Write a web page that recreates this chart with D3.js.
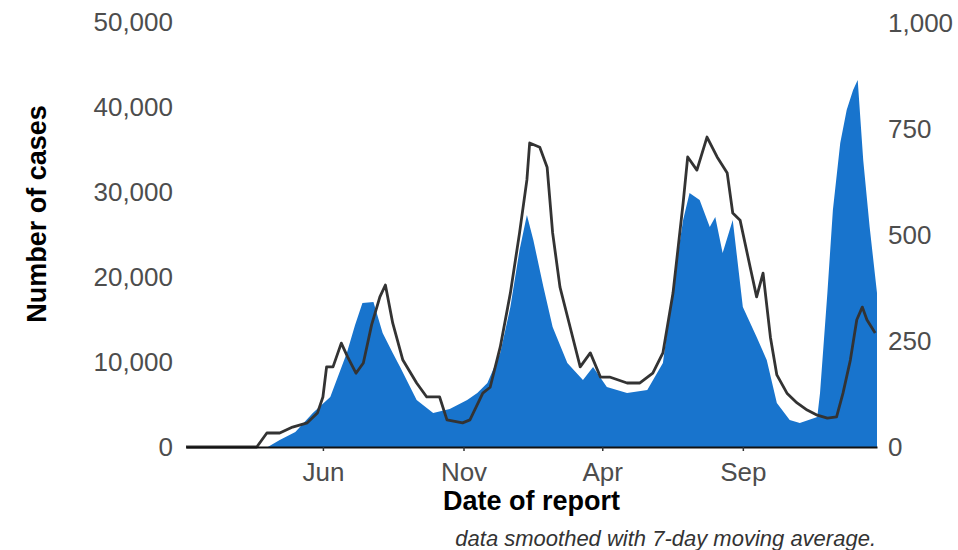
<!DOCTYPE html>
<html>
<head>
<meta charset="utf-8">
<script src="https://cdn.jsdelivr.net/npm/d3@7"></script>
<style>
  html, body { margin: 0; padding: 0; background: #fff; }
  svg { display: block; }
  text { font-family: "Liberation Sans", Arial, Helvetica, sans-serif; }
</style>
</head>
<body>
<svg id="chart" width="958" height="550"></svg>
<script>
// ---- data ----
const caseDates = ["2020-01-04","2020-04-02","2020-04-15","2020-05-02","2020-05-21","2020-06-09","2020-06-27","2020-07-06","2020-07-14","2020-07-26","2020-08-05","2020-08-16","2020-08-24","2020-09-11","2020-09-29","2020-10-17","2020-11-05","2020-11-16","2020-11-27","2020-12-11","2020-12-22","2021-01-01","2021-01-09","2021-01-16","2021-01-27","2021-02-06","2021-02-22","2021-03-11","2021-03-22","2021-04-06","2021-04-28","2021-05-20","2021-06-06","2021-06-17","2021-06-28","2021-07-05","2021-07-16","2021-07-27","2021-08-02","2021-08-10","2021-08-21","2021-09-01","2021-09-16","2021-09-27","2021-10-08","2021-10-22","2021-11-02","2021-11-21","2021-11-24","2021-12-02","2021-12-08","2021-12-16","2021-12-23","2021-12-30","2022-01-04","2022-01-10","2022-01-17","2022-01-25"];
const caseValues = [0,0,820,1760,4000,5880,11060,14350,16940,17060,13410,11060,9410,5530,4000,4470,5530,6350,7530,11060,16470,23180,27290,24350,18820,14120,9880,7880,9410,7060,6350,6710,9880,18820,26710,29880,29060,25880,27060,22820,26710,16470,12940,10240,5180,3180,2820,3530,6350,18120,27880,35770,39650,42000,43180,33770,25880,18120];

const deathDates = ["2020-01-04","2020-03-21","2020-04-01","2020-04-15","2020-04-29","2020-05-15","2020-05-26","2020-06-01","2020-06-05","2020-06-12","2020-06-21","2020-06-28","2020-07-07","2020-07-15","2020-07-24","2020-08-02","2020-08-08","2020-08-16","2020-08-27","2020-09-11","2020-09-22","2020-10-06","2020-10-14","2020-10-31","2020-11-08","2020-11-22","2020-11-30","2020-12-11","2020-12-22","2021-01-01","2021-01-09","2021-01-12","2021-01-23","2021-01-31","2021-02-06","2021-02-14","2021-02-25","2021-03-08","2021-03-19","2021-03-30","2021-04-09","2021-04-28","2021-05-12","2021-05-26","2021-06-06","2021-06-17","2021-06-28","2021-07-03","2021-07-13","2021-07-24","2021-08-04","2021-08-15","2021-08-21","2021-08-29","2021-09-09","2021-09-16","2021-09-23","2021-10-01","2021-10-08","2021-10-19","2021-10-30","2021-11-10","2021-11-21","2021-12-02","2021-12-12","2021-12-19","2021-12-27","2022-01-03","2022-01-09","2022-01-14","2022-01-23"];
const deathValues = [0,0,33,33,47,57,80,118,189,189,245,212,174,198,288,354,382,292,205,151,118,118,64,57,64,127,141,236,363,505,630,717,707,660,505,377,283,189,222,165,165,151,151,174,222,363,575,684,653,731,684,646,552,535,424,354,410,259,170,127,104,87,75,68,71,127,205,300,330,300,269];

const xDomain = ["2020-01-04", "2022-01-25"];
const xTicks = ["2020-06-01", "2020-11-01", "2021-04-01", "2021-09-01"];
const leftTicks = [0, 10000, 20000, 30000, 40000, 50000];
const rightTicks = [0, 250, 500, 750, 1000];

const xTitle = "Date of report";
const yTitle = "Number of cases";
const caption = "data smoothed with 7-day moving average.";

// ---- layout ----
const parse = d3.utcParse("%Y-%m-%d");
const svg = d3.select("#chart");
const L = 186, R = 877, B = 447, T = 22;

const x = d3.scaleUtc().domain(xDomain.map(parse)).range([L, R]);
const yL = d3.scaleLinear().domain([0, 50000]).range([B, T]);
const yR = d3.scaleLinear().domain([0, 1000]).range([B, T + 1]);

const cases = caseDates.map((d, i) => ({ date: parse(d), v: caseValues[i] }));
const deaths = deathDates.map((d, i) => ({ date: parse(d), v: deathValues[i] }));

// blue area (cases)
svg.append("path")
  .datum(cases)
  .attr("fill", "#1874CD")
  .attr("d", d3.area().x(d => x(d.date)).y0(B).y1(d => yL(d.v)));

// deaths line
const line = d3.line().x(d => x(d.date)).y(d => yR(d.v));
svg.append("path").datum(deaths)
  .attr("fill", "none").attr("stroke", "#333333").attr("stroke-width", 2.8)
  .attr("stroke-linejoin", "round").attr("d", line);

// left axis
const gL = svg.append("g").attr("transform", `translate(${L},0)`)
  .call(d3.axisLeft(yL).tickValues(leftTicks).tickSize(0).tickPadding(13).tickFormat(d3.format(",")));
gL.select(".domain").remove();
gL.selectAll("text").attr("font-size", 26).attr("fill", "#4D4D4D")
  .style("font-family", "'Liberation Sans', Arial, sans-serif");

// right axis
const gR = svg.append("g").attr("transform", `translate(${R},0)`)
  .call(d3.axisRight(yR).tickValues(rightTicks).tickSize(0).tickPadding(11).tickFormat(d3.format(",")));
gR.select(".domain").remove();
gR.selectAll("text").attr("font-size", 26).attr("fill", "#4D4D4D")
  .style("font-family", "'Liberation Sans', Arial, sans-serif");

// bottom axis
const gB = svg.append("g").attr("transform", `translate(0,${B})`)
  .call(d3.axisBottom(x).tickValues(xTicks.map(parse)).tickSize(4).tickSizeOuter(0).tickPadding(12)
    .tickFormat(d3.utcFormat("%b")));
gB.select(".domain").attr("stroke", "#111").attr("stroke-width", 2);
gB.selectAll(".tick line").attr("stroke", "#333").attr("stroke-width", 1.5);
gB.selectAll("text").attr("font-size", 26).attr("fill", "#4D4D4D")
  .style("font-family", "'Liberation Sans', Arial, sans-serif");

// titles
svg.append("text").attr("x", (L + R) / 2).attr("y", 510)
  .attr("text-anchor", "middle").attr("font-size", 27).attr("font-weight", "bold")
  .attr("fill", "#000").text(xTitle);
svg.append("text").attr("transform", "translate(46,214) rotate(-90)")
  .attr("text-anchor", "middle").attr("font-size", 27).attr("font-weight", "bold")
  .attr("fill", "#000").text(yTitle);
svg.append("text").attr("x", 876).attr("y", 546)
  .attr("text-anchor", "end").attr("font-size", 22).attr("font-style", "italic")
  .attr("fill", "#333").text(caption);
</script>
</body>
</html>
